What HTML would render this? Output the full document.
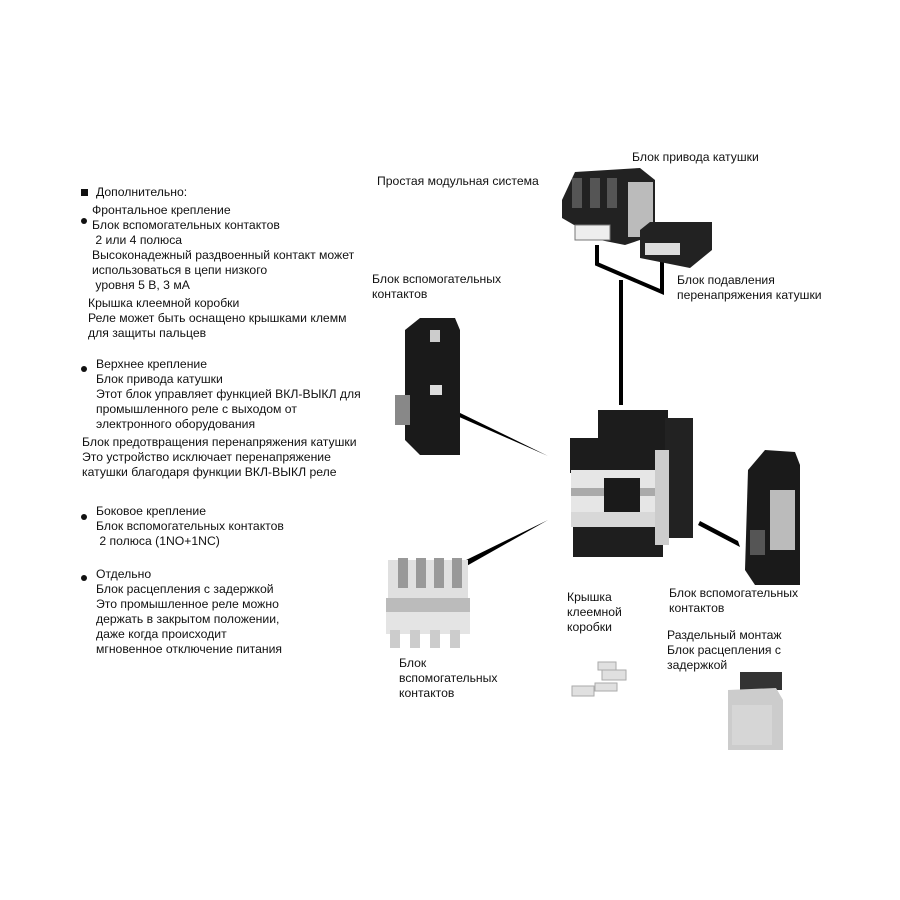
<!DOCTYPE html>
<html><head><meta charset="utf-8"><style>
html,body{margin:0;padding:0;background:#fff;}
body{width:900px;height:900px;position:relative;overflow:hidden;font-family:"Liberation Sans","DejaVu Sans",sans-serif;font-size:12.2px;color:#111;}
.t{position:absolute;line-height:15px;white-space:nowrap;}
svg{position:absolute;left:0;top:0;}
</style></head><body>
<svg width="900" height="900" viewBox="0 0 900 900">
<rect x="81" y="189" width="7" height="7" fill="#111"/>
<circle cx="84" cy="221" r="3" fill="#111"/>
<circle cx="84" cy="369" r="3" fill="#111"/>
<circle cx="84" cy="517" r="3" fill="#111"/>
<circle cx="84" cy="578" r="3" fill="#111"/>
<g stroke="#000" stroke-width="4" fill="none">
<polyline points="597,245 597,264 662,292 662,262"/>
<line x1="621" y1="280" x2="621" y2="405"/>
</g>
<polygon points="456,411 457,416 548,456" fill="#000"/>
<polygon points="460,563 463,568 548,520" fill="#000"/>
<polygon points="700,521 698,525 740,547 738,541" fill="#000"/>
<g>
<polygon points="562,200 575,172 640,168 655,180 655,235 625,245 600,240 562,218" fill="#222"/>
<rect x="628" y="182" width="25" height="55" fill="#bbb"/>
<rect x="572" y="178" width="10" height="30" fill="#555"/>
<rect x="590" y="178" width="10" height="30" fill="#555"/>
<rect x="607" y="178" width="10" height="30" fill="#555"/>
<rect x="575" y="225" width="35" height="15" fill="#eee" stroke="#777"/>
<polygon points="640,230 650,222 712,222 712,250 690,268 640,258" fill="#222"/>
<rect x="645" y="243" width="35" height="12" fill="#ddd"/>
</g>
<g>
<polygon points="405,330 420,318 455,318 460,330 460,455 420,455 405,440" fill="#1a1a1a"/>
<rect x="395" y="395" width="15" height="30" fill="#888"/>
<rect x="430" y="385" width="12" height="10" fill="#ddd"/>
<rect x="430" y="330" width="10" height="12" fill="#ccc"/>
</g>
<g>
<rect x="598" y="410" width="70" height="30" fill="#1c1c1c"/>
<rect x="665" y="418" width="28" height="120" fill="#222"/>
<rect x="570" y="438" width="95" height="35" fill="#1c1c1c"/>
<rect x="571" y="470" width="95" height="42" fill="#e6e6e6"/>
<rect x="571" y="488" width="95" height="8" fill="#aaa"/>
<rect x="604" y="478" width="36" height="52" fill="#1a1a1a"/>
<rect x="571" y="512" width="95" height="15" fill="#d8d8d8"/>
<rect x="573" y="527" width="90" height="30" fill="#1e1e1e"/>
<rect x="655" y="450" width="14" height="95" fill="#ccc"/>
</g>
<g>
<polygon points="748,470 765,450 795,452 800,465 800,585 755,585 745,570" fill="#1a1a1a"/>
<rect x="770" y="490" width="25" height="60" fill="#bbb"/>
<rect x="750" y="530" width="15" height="25" fill="#555"/>
</g>
<g>
<rect x="388" y="560" width="80" height="40" fill="#e0e0e0"/>
<rect x="398" y="558" width="10" height="30" fill="#999"/>
<rect x="416" y="558" width="10" height="30" fill="#999"/>
<rect x="434" y="558" width="10" height="30" fill="#999"/>
<rect x="452" y="558" width="10" height="30" fill="#999"/>
<rect x="386" y="598" width="84" height="14" fill="#bbb"/>
<rect x="386" y="612" width="84" height="22" fill="#e4e4e4"/>
<rect x="390" y="630" width="10" height="18" fill="#ccc"/>
<rect x="410" y="630" width="10" height="18" fill="#ccc"/>
<rect x="430" y="630" width="10" height="18" fill="#ccc"/>
<rect x="450" y="630" width="10" height="18" fill="#ccc"/>
</g>
<g fill="#e0e0e0" stroke="#aaa">
<rect x="598" y="662" width="18" height="8"/>
<rect x="602" y="670" width="24" height="10"/>
<rect x="595" y="683" width="22" height="8"/>
<rect x="572" y="686" width="22" height="10"/>
</g>
<g>
<rect x="740" y="672" width="42" height="18" fill="#333"/>
<polygon points="728,690 776,688 783,700 783,750 728,750" fill="#ccc"/>
<rect x="732" y="705" width="40" height="40" fill="#d6d6d6"/>
</g>
</svg>

<div class="t" style="left:96px;top:185px">Дополнительно:</div>
<div class="t" style="left:92px;top:203px">Фронтальное крепление<br>Блок вспомогательных контактов<br>&nbsp;2 или 4 полюса<br>Высоконадежный раздвоенный контакт может<br>использоваться в цепи низкого<br>&nbsp;уровня 5 В, 3 мА</div>
<div class="t" style="left:88px;top:296px">Крышка клеемной коробки<br>Реле может быть оснащено крышками клемм<br>для защиты пальцев</div>
<div class="t" style="left:96px;top:357px">Верхнее крепление<br>Блок привода катушки<br>Этот блок управляет функцией ВКЛ-ВЫКЛ для<br>промышленного реле с выходом от<br>электронного оборудования</div>
<div class="t" style="left:82px;top:435px">Блок предотвращения перенапряжения катушки<br>Это устройство исключает перенапряжение<br>катушки благодаря функции ВКЛ-ВЫКЛ реле</div>
<div class="t" style="left:96px;top:504px">Боковое крепление<br>Блок вспомогательных контактов<br>&nbsp;2 полюса (1NO+1NC)</div>
<div class="t" style="left:96px;top:567px">Отдельно<br>Блок расцепления с задержкой<br>Это промышленное реле можно<br>держать в закрытом положении,<br>даже когда происходит<br>мгновенное отключение питания</div>

<div class="t" style="left:377px;top:174px">Простая модульная система</div>
<div class="t" style="left:632px;top:150px">Блок привода катушки</div>
<div class="t" style="left:677px;top:273px">Блок подавления<br>перенапряжения катушки</div>
<div class="t" style="left:372px;top:272px">Блок вспомогательных<br>контактов</div>
<div class="t" style="left:669px;top:586px">Блок вспомогательных<br>контактов</div>
<div class="t" style="left:567px;top:590px">Крышка<br>клеемной<br>коробки</div>
<div class="t" style="left:667px;top:628px">Раздельный монтаж<br>Блок расцепления с<br>задержкой</div>
<div class="t" style="left:399px;top:656px">Блок<br>вспомогательных<br>контактов</div>
</body></html>
